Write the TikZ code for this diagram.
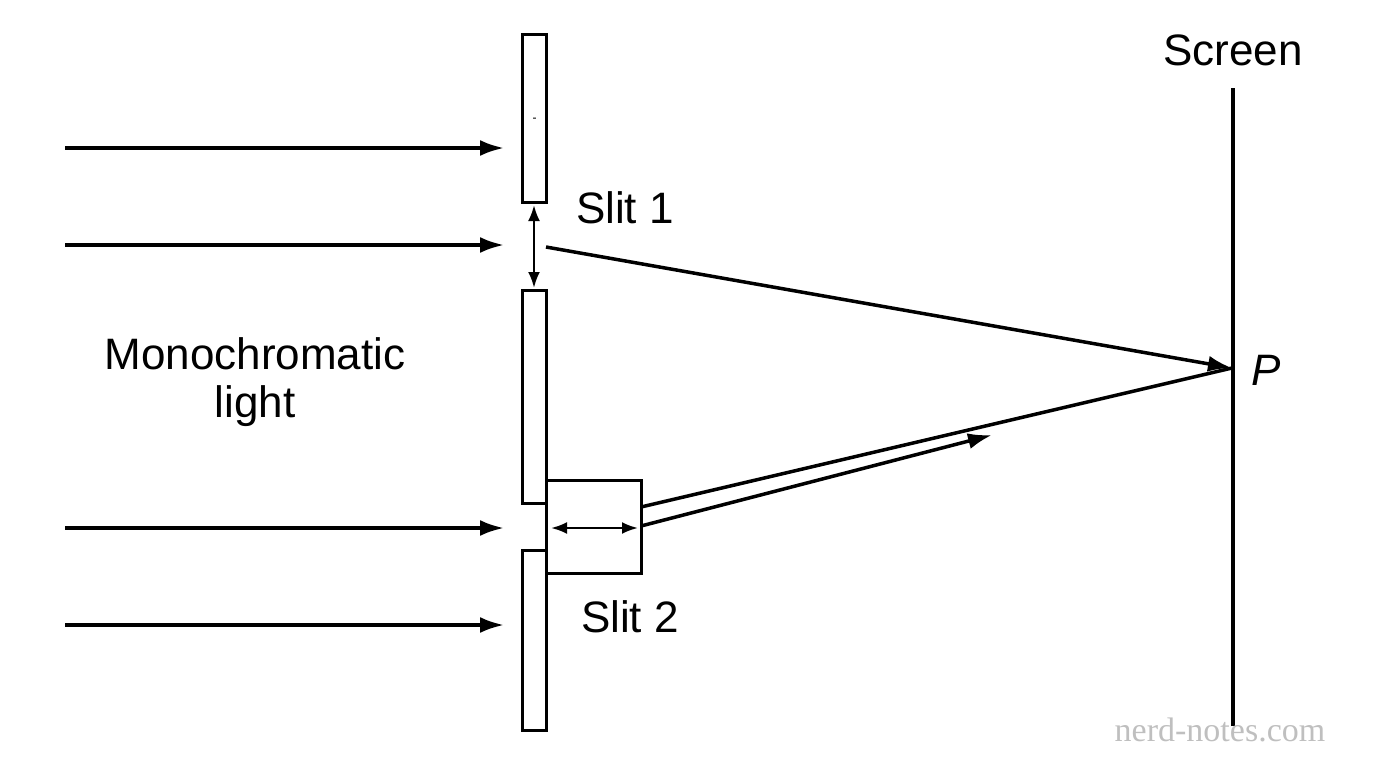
\documentclass[tikz,border=0pt]{standalone}
\usepackage{fontspec}
\setmainfont{Liberation Sans}
\newfontfamily\wmfont{Liberation Serif}
\usetikzlibrary{arrows.meta}
\begin{document}
\begin{tikzpicture}[x=1pt,y=-1pt,line width=3.5pt,
  ray/.style={-{Latex[length=24pt,width=16pt]}},
  dbl/.style={{Latex[length=16pt,width=12pt]}-{Latex[length=16pt,width=12pt]},line width=2.5pt},
  bar/.style={draw,line width=3pt},
  lbl/.style={font=\fontsize{44}{48}\selectfont,inner sep=0pt}]
\useasboundingbox (0,0) rectangle (1376,768);
\node[bar,minimum width=0,inner sep=0] (b1) at (534,118) {};
\draw[line width=3pt] (522,35) rectangle (546,202);
\draw[line width=3pt] (522,290) rectangle (546,503);
\draw[line width=3pt] (522,550) rectangle (546,730);
\draw[line width=3pt,fill=white] (546,480) rectangle (641,573);
\coordinate (s1) at (546,247);
\coordinate (P) at (1232,368);
\coordinate (s2a) at (641,507);
\coordinate (s2b) at (641,526);
\coordinate (s2e) at (992,435);
\foreach \y/\n in {148/a,245/b,528/c,625/d}{
  \coordinate (l\n) at (65,\y);
  \coordinate (r\n) at (504,\y);
  \draw[ray] (l\n) -- (r\n);
}
\draw[dbl] (534,205) -- (534,288);
\draw[dbl] (551,528) -- (638,528);
\draw[ray] (s1) -- (P);
\draw (s2a) -- (P);
\draw[ray] (s2b) -- (s2e);
\draw (1233,88) -- (1233,726);
\node[lbl] (t1) at (625,208) {Slit 1};
\node[lbl] (t2) at (630,617) {Slit 2};
\node[lbl,align=center] (m) at (255,382) {Monochromatic\\light};
\node[lbl] (sc) at (1233,50) {Screen};
\node[lbl] (p) at (1266,370) {\itshape P};
\node[font=\wmfont\fontsize{34}{36}\selectfont,text=black!25] (w) at (1220,730) {nerd-notes.com};
\end{tikzpicture}
\end{document}
